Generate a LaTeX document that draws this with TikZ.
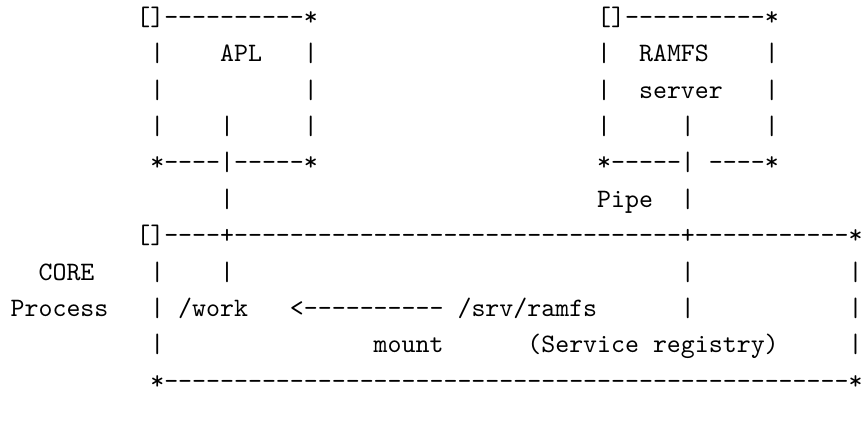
\documentclass[tikz,border=0pt]{standalone}
\usepackage{tikz}
\font\asciifont="[lmmono10-regular]" at 10pt

\begin{document}
\begin{tikzpicture}[
    x=5.25pt, y=-13.68pt,
    ascii/.style={anchor=base west, inner sep=0pt, font=\asciifont}
]
\useasboundingbox (-3.8pt, 9.5pt) rectangle (321pt, -151pt);

\node[ascii] (aplTop) at (9, 0) {[]----------*};
\node[ascii] (ramfsTop) at (42, 0) {[]----------*};

\node[ascii] (apl) at (15, 1) {APL};
\node[ascii] (ramfs) at (45, 1) {RAMFS};
\node[ascii] (server) at (45, 2) {server};

\node[ascii] (aplBottom) at (10, 4) {*----|-----*};
\node[ascii] (ramfsBottom) at (42, 4) {*-----| ----*};
\node[ascii] (pipe) at (42, 5) {Pipe};

\node[ascii] (coreTop) at (9, 6) {[]----+--------------------------------+-----------*};
\node[ascii] (core) at (2, 7) {CORE};
\node[ascii] (process) at (0, 8) {Process};
\node[ascii] (work) at (12, 8) {/work};
\node[ascii] (mountArrow) at (20, 8) {<----------};
\node[ascii] (srv) at (32, 8) {/srv/ramfs};
\node[ascii] (mount) at (26, 9) {mount};
\node[ascii] (registry) at (37, 9) {(Service registry)};
\node[ascii] (coreBottom) at (10, 10) {*-------------------------------------------------*};

\foreach \c/\r in {10/1, 21/1, 42/1, 54/1, 10/2, 21/2, 42/2, 54/2,
                   10/3, 15/3, 21/3, 42/3, 48/3, 54/3, 15/5, 48/5,
                   10/7, 15/7, 48/7, 60/7, 10/8, 48/8, 60/8, 10/9, 60/9}
    \node[ascii] (bar-\c-\r) at (\c, \r) {|};

\end{tikzpicture}
\end{document}
